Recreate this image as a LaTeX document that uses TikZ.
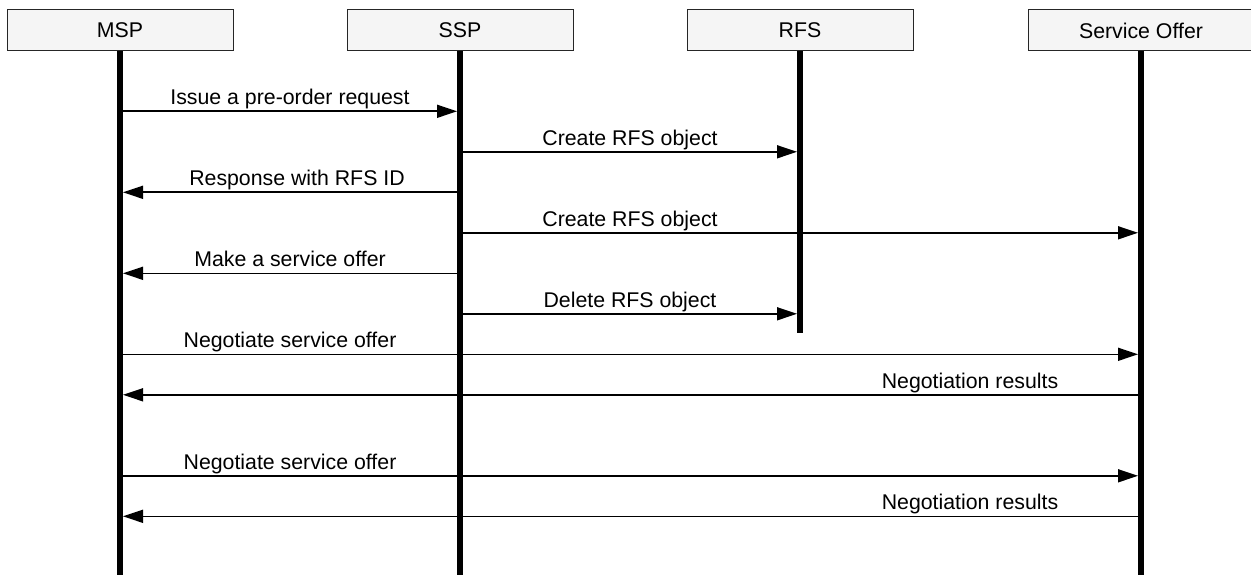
\documentclass[tikz,border=0pt]{standalone}
\usepackage{fontspec}
\setmainfont{Liberation Sans}
\usetikzlibrary{arrows.meta}
\begin{document}
\begin{tikzpicture}[x=1pt,y=-1pt,
  actor/.style={draw=black!85, fill=black!4, line width=1pt,
    minimum width=226pt, minimum height=41pt, inner sep=0pt,
    font=\fontsize{21.3}{25}\selectfont},
  life/.style={line width=6pt},
  msg/.style={line width=1.6pt, -{Triangle[length=20pt,width=13pt]}},
  lbl/.style={anchor=base, inner sep=0pt, font=\fontsize{21.3}{25}\selectfont}]
\useasboundingbox (0,0) rectangle (1251,575);

% participants
\node[actor] (msp) at (120,30.5)  {MSP};
\node[actor] (ssp) at (460,30.5)  {SSP};
\node[actor] (rfs) at (800,30.5)  {RFS};
\node[actor] (so)  at (1141,30.5) {Service Offer};

% lifelines
\coordinate (mspE) at (120,575);
\coordinate (sspE) at (460,575);
\coordinate (rfsE) at (800,333);
\coordinate (soE)  at (1141,575);
\draw[life] (msp.south) -- (mspE);
\draw[life] (ssp.south) -- (sspE);
\draw[life] (rfs.south) -- (rfsE);
\draw[life] (so.south)  -- (soE);

% message end points on the lifelines
\coordinate (a1) at (123,111.3);  \coordinate (b1) at (457,111.3);
\coordinate (a2) at (463,151.8);  \coordinate (b2) at (797,151.8);
\coordinate (a3) at (457,192.3);  \coordinate (b3) at (123,192.3);
\coordinate (a4) at (463,232.8);  \coordinate (b4) at (1138,232.8);
\coordinate (a5) at (457,273.3);  \coordinate (b5) at (123,273.3);
\coordinate (a6) at (463,313.8);  \coordinate (b6) at (797,313.8);
\coordinate (a7) at (123,354.3);  \coordinate (b7) at (1138,354.3);
\coordinate (a8) at (1138,394.8); \coordinate (b8) at (123,394.8);
\coordinate (a9) at (123,475.8);  \coordinate (b9) at (1138,475.8);
\coordinate (a10) at (1138,516.3); \coordinate (b10) at (123,516.3);

% messages
\draw[msg] (a1) -- (b1);
\draw[msg] (a2) -- (b2);
\draw[msg] (a3) -- (b3);
\draw[msg] (a4) -- (b4);
\draw[msg] (a5) -- (b5);
\draw[msg] (a6) -- (b6);
\draw[msg] (a7) -- (b7);
\draw[msg] (a8) -- (b8);
\draw[msg] (a9) -- (b9);
\draw[msg] (a10) -- (b10);

% message labels
\node[lbl] (t1)  at (290,104.6) {Issue a pre-order request};
\node[lbl] (t2)  at (630,145.1) {Create RFS object};
\node[lbl] (t3)  at (297,185.6) {Response with RFS ID};
\node[lbl] (t4)  at (630,226.1) {Create RFS object};
\node[lbl] (t5)  at (290,266.6) {Make a service offer};
\node[lbl] (t6)  at (630,307.1) {Delete RFS object};
\node[lbl] (t7)  at (290,347.6) {Negotiate service offer};
\node[lbl] (t8)  at (970,388.1) {Negotiation results};
\node[lbl] (t9)  at (290,469.1) {Negotiate service offer};
\node[lbl] (t10) at (970,509.6) {Negotiation results};
\end{tikzpicture}
\end{document}
